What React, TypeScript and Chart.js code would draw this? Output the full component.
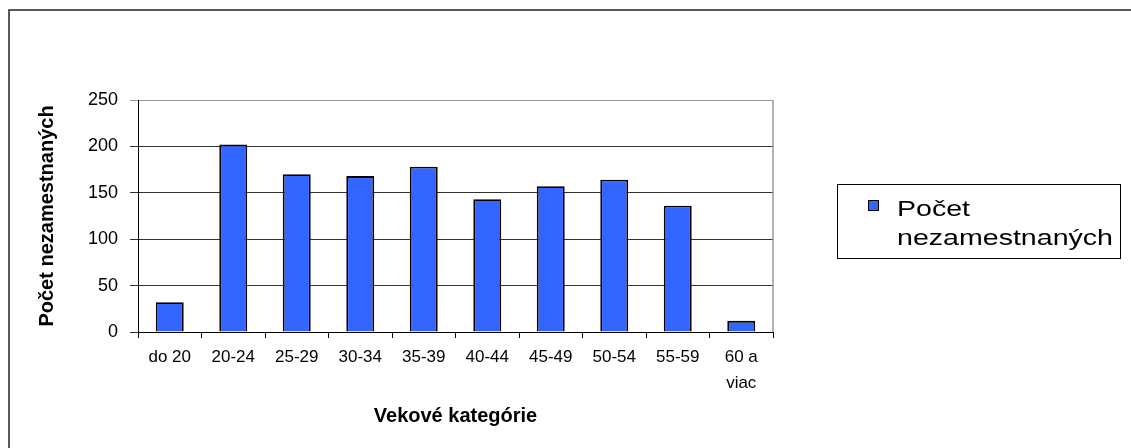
import React, { useEffect, useRef } from "react";
import { Chart, registerables } from "chart.js";

Chart.register(...registerables);

const categories: (string | string[])[] = [
  "do 20", "20-24", "25-29", "30-34", "35-39", "40-44", "45-49", "50-54", "55-59", ["60 a", "viac"],
];
const values = [32, 202, 170, 168, 178, 143, 157, 164, 136, 12];
const seriesName = "Počet nezamestnaných";
const legendLines = ["Počet", "nezamestnaných"];
const xTitle = "Vekové kategórie";
const yTitle = "Počet nezamestnaných";
const yMin = 0;
const yMax = 250;
const yStep = 50;

const FONT = "'Liberation Sans', Arial, sans-serif";
const BAR_COLOR = "#3366FF";

const decorPlugin = {
  id: "decor",
  afterDraw(chart: any) {
    const ctx = chart.ctx as CanvasRenderingContext2D;
    const a = chart.chartArea;
    ctx.save();
    ctx.strokeStyle = "#999";
    ctx.lineWidth = 1.5;
    ctx.beginPath();
    ctx.moveTo(a.right, a.top);
    ctx.lineTo(a.right, a.bottom);
    ctx.stroke();

    ctx.strokeStyle = "#222";
    ctx.lineWidth = 1.5;
    ctx.beginPath();
    ctx.moveTo(9, 448);
    ctx.lineTo(9, 10);
    ctx.lineTo(1131, 10);
    ctx.stroke();

    const bx = 837.5, by = 184.5, bw = 283, bh = 74;
    ctx.strokeStyle = "#000";
    ctx.lineWidth = 1;
    ctx.strokeRect(bx, by, bw, bh);
    ctx.fillStyle = BAR_COLOR;
    ctx.fillRect(868, 200, 10, 10);
    ctx.strokeRect(868.5, 200.5, 10, 10);

    ctx.fillStyle = "#000";
    ctx.font = `22px ${FONT}`;
    ctx.textBaseline = "alphabetic";
    ctx.textAlign = "left";
    const w = ctx.measureText(legendLines[1]).width;
    const sx = 216 / w;
    ctx.save();
    ctx.translate(897, 0);
    ctx.scale(sx, 1);
    ctx.fillText(legendLines[0], 0, 216);
    ctx.fillText(legendLines[1], 0, 245);
    ctx.restore();
    ctx.restore();
  },
};

export default function App() {
  const ref = useRef<HTMLCanvasElement>(null);
  useEffect(() => {
    if (!ref.current) return;
    const chart = new Chart(ref.current, {
      type: "bar",
      data: {
        labels: categories as any,
        datasets: [
          {
            label: seriesName,
            data: values,
            backgroundColor: BAR_COLOR,
            borderColor: "#000",
            borderWidth: 1.8,
            categoryPercentage: 0.8,
            barPercentage: 0.55,
          },
        ],
      },
      options: {
        animation: false,
        responsive: false,
        layout: { padding: { left: 35, top: 100, right: 358, bottom: 20 } },
        plugins: {
          legend: { display: false },
          title: { display: false },
          tooltip: { enabled: false },
        },
        scales: {
          x: {
            grid: { drawOnChartArea: false, drawTicks: true, tickLength: 6, color: "#000", offset: true },
            border: { display: true, color: "#000", width: 1 },
            ticks: {
              font: { family: FONT, size: 17, lineHeight: 1.55 },
              color: "#000",
              padding: 6,
              maxRotation: 0,
              autoSkip: false,
            },
            title: {
              display: true,
              text: xTitle,
              font: { family: FONT, size: 20, weight: "bold" },
              color: "#000",
              padding: { top: 0, bottom: 0 },
            },
            afterFit: (s: any) => {
              s.height = 96;
            },
          },
          y: {
            min: yMin,
            max: yMax,
            ticks: {
              stepSize: yStep,
              font: { family: FONT, size: 18 },
              color: "#000",
              padding: 12,
            },
            grid: {
              color: (c: any) => (c.tick && c.tick.value === yMax ? "#999" : "#333"),
              tickLength: 8,
            },
            border: { display: true, color: "#000", width: 1 },
            title: {
              display: true,
              text: yTitle,
              font: { family: FONT, size: 20, weight: "bold" },
              color: "#000",
              padding: { top: 0, bottom: 0 },
            },
            afterFit: (s: any) => {
              s.width = 103;
            },
          },
        },
      },
      plugins: [decorPlugin],
    } as any);
    return () => chart.destroy();
  }, []);
  return (
    <div style={{ position: "fixed", left: 0, top: 0, width: 1131, height: 448, background: "#fff" }}>
      <canvas ref={ref} width={1131} height={448} style={{ display: "block" }} />
    </div>
  );
}
